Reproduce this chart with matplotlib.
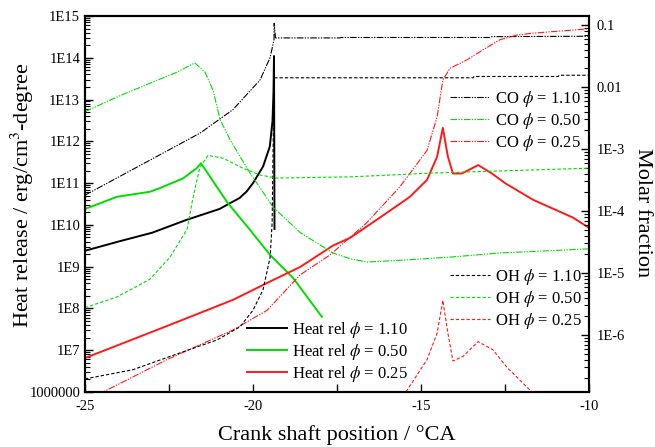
import numpy as np
import matplotlib
matplotlib.use("Agg")
import matplotlib.pyplot as plt
from matplotlib.lines import Line2D
from matplotlib.ticker import FixedLocator, FixedFormatter, LogLocator, MultipleLocator, NullFormatter

plt.rcParams['font.family'] = ['Liberation Serif', 'DejaVu Serif']
plt.rcParams['mathtext.fontset'] = 'stix'
plt.rcParams['axes.unicode_minus'] = False

# ---- heat release (left axis), erg/cm3-degree ----
hr110_x = [-25.0, -24.0, -23.0, -22.0, -21.0, -20.4, -20.19, -20.0, -19.7, -19.5, -19.42, -19.39, -19.375, -19.36]
hr110_y = [2.4e9, 4.0e9, 6.5e9, 1.3e10, 2.4e10, 4.4e10, 6.3e10, 1.0e11, 2.5e11, 7.5e11, 3.0e12, 1.5e13, 1.1e14, 8.0e9]

hr050_x = [-25.0, -24.05, -23.07, -22.77, -22.08, -21.67, -21.55, -20.77, -20.09, -19.49, -18.81, -17.95]
hr050_y = [2.4e10, 4.7e10, 6.2e10, 7.6e10, 1.3e11, 2.3e11, 3.0e11, 3.5e10, 7.6e9, 1.9e9, 5.4e8, 6.3e7]

hr025_x = [-25.0, -22.56, -20.6, -19.4, -18.6, -17.62, -17.11, -16.22, -15.33, -14.82, -14.52, -14.35,
           -14.2, -14.05, -13.78, -13.3, -12.89, -12.5, -11.67, -10.48, -10.0]
hr025_y = [6.5e6, 3.8e7, 1.6e8, 4.8e8, 9.8e8, 3.2e9, 4.9e9, 1.5e10, 4.7e10, 1.2e11, 4.3e11, 2.1e12,
           4.3e11, 1.7e11, 1.7e11, 2.7e11, 1.7e11, 1.0e11, 4.0e10, 1.5e10, 8.5e9]

# ---- CO molar fraction (right axis) ----
co110_x = [-25.0, -23.07, -21.58, -20.6, -19.79, -19.49, -19.375, -19.37, -19.33, -17.41, -17.38, -12.95, -12.9, -10.0]
co110_y = [1.8e-4, 6.6e-4, 1.8e-3, 4.3e-3, 1.3e-2, 3.0e-2, 5.8e-2, 0.107, 0.062, 0.062, 0.063, 0.063, 0.065, 0.066]

co050_x = [-25.0, -24.05, -23.07, -22.26, -21.73, -21.43, -21.19, -20.98, -20.68, -20.09, -19.4, -18.6,
           -17.62, -17.11, -16.61, -15.63, -14.14, -12.65, -10.0]
co050_y = [4.0e-3, 6.9e-3, 1.15e-2, 1.74e-2, 2.45e-2, 1.74e-2, 8.9e-3, 3.0e-3, 1.4e-3, 4.1e-4, 1.15e-4, 4.5e-5,
           2.1e-5, 1.7e-5, 1.5e-5, 1.6e-5, 1.8e-5, 2.1e-5, 2.45e-5]

co025_x = [-25.0, -24.46, -22.56, -20.6, -19.58, -18.6, -17.71, -16.61, -15.63, -14.82, -14.52, -14.35,
           -14.14, -13.63, -13.15, -12.65, -12.14, -11.67, -10.0]
co025_y = [8.5e-8, 1.2e-7, 4.0e-7, 1.2e-6, 2.5e-6, 9.3e-6, 1.95e-5, 6.5e-5, 2.45e-4, 9.5e-4, 3.3e-3, 1.3e-2,
           2.0e-2, 2.75e-2, 4.0e-2, 5.8e-2, 6.9e-2, 7.4e-2, 8.7e-2]

# ---- OH molar fraction (right axis) ----
oh110_x = [-25.0, -23.57, -22.47, -21.07, -20.39, -20.0, -19.7, -19.49, -19.43, -19.4, -19.375,
           -13.45, -13.42, -10.92, -10.89, -10.0]
oh110_y = [1.95e-7, 2.75e-7, 4.5e-7, 8.3e-7, 1.35e-6, 2.5e-6, 5.4e-6, 1.8e-5, 6.5e-5, 1.26e-3, 0.0141,
           0.0141, 0.0148, 0.0148, 0.0155, 0.0155]

oh050_x = [-25.0, -24.05, -23.07, -22.47, -21.96, -21.79, -21.58, -21.34, -20.89, -20.3, -19.79, -19.29,
           -17.11, -14.64, -10.0]
oh050_y = [2.75e-6, 4.1e-6, 7.9e-6, 1.8e-5, 5.1e-5, 1.6e-4, 5.1e-4, 7.9e-4, 7.1e-4, 4.9e-4, 3.8e-4, 3.4e-4,
           3.55e-4, 4.1e-4, 4.9e-4]

oh025_x = [-15.8, -15.45, -14.82, -14.52, -14.35, -14.2, -14.05, -13.75, -13.3, -12.86, -12.44, -11.7, -11.4]
oh025_y = [5e-8, 1.2e-7, 4.0e-7, 1.07e-6, 3.6e-6, 1.07e-6, 3.8e-7, 4.5e-7, 7.8e-7, 5.75e-7, 3.0e-7, 1.2e-7, 6e-8]

phi_labels = ['1.10', '0.50', '0.25']
left_ticks = [1e6, 1e7, 1e8, 1e9, 1e10, 1e11, 1e12, 1e13, 1e14, 1e15]
left_ticklabels = ['1000000', '1E7', '1E8', '1E9', '1E10', '1E11', '1E12', '1E13', '1E14', '1E15']
right_ticks = [1e-6, 1e-5, 1e-4, 1e-3, 1e-2, 1e-1]
right_ticklabels = ['1E-6', '1E-5', '1E-4', '1E-3', '0.01', '0.1']

BLACK = 'black'
GREEN = '#00dd00'
RED = '#ff1a1a'
colors = [BLACK, GREEN, RED]
co_dash = (0, (6, 1.2, 1.2, 1.2, 1.2, 1.2))
oh_dash = (0, (3, 1.8))

fig = plt.figure(figsize=(6.55, 4.47), dpi=100)
ax = fig.add_axes([85 / 655, 1 - 392 / 447, 504 / 655, 376 / 447])
ax2 = ax.twinx()

# heat release
for x, y, c in zip([hr110_x, hr050_x, hr025_x], [hr110_y, hr050_y, hr025_y], colors):
    ax.plot(x, y, color=c, lw=1.4)

# CO and OH
for x, y, c in zip([co110_x, co050_x, co025_x], [co110_y, co050_y, co025_y], colors):
    ax2.plot(x, y, color=c, lw=0.8, ls=co_dash)
for x, y, c in zip([oh110_x, oh050_x, oh025_x], [oh110_y, oh050_y, oh025_y], colors):
    ax2.plot(x, y, color=c, lw=0.8, ls=oh_dash)

ax.set_xlim(-25, -10)
ax.set_yscale('log')
ax.set_ylim(1e6, 1e15)
ax2.set_yscale('log')
ax2.set_ylim(1.2e-7, 0.14)

ax.xaxis.set_major_locator(FixedLocator([-25, -20, -15, -10]))
ax.xaxis.set_minor_locator(MultipleLocator(2.5))
ax.yaxis.set_major_locator(FixedLocator(left_ticks))
ax.yaxis.set_major_formatter(FixedFormatter(left_ticklabels))
ax.yaxis.set_minor_locator(LogLocator(base=10, subs=np.arange(2, 10), numticks=20))
ax.yaxis.set_minor_formatter(NullFormatter())
ax2.yaxis.set_major_locator(FixedLocator(right_ticks))
ax2.yaxis.set_major_formatter(FixedFormatter(right_ticklabels))
ax2.yaxis.set_minor_locator(LogLocator(base=10, subs=np.arange(2, 10), numticks=20))
ax2.yaxis.set_minor_formatter(NullFormatter())

ax.tick_params(axis='both', which='both', direction='in', labelsize=10.5, top=False, right=False)
ax.tick_params(which='major', length=6, width=1.0)
ax.tick_params(which='minor', length=3.5, width=0.8)
ax.tick_params(axis='x', which='minor', length=6, width=1.0)
ax.tick_params(axis='x', pad=6)
ax2.tick_params(axis='y', which='both', direction='in', labelsize=10.5, pad=5.5)
ax2.tick_params(which='major', length=6, width=1.0)
ax2.tick_params(which='minor', length=3.5, width=0.8)

for a in (ax, ax2):
    for s in a.spines.values():
        s.set_linewidth(1.5)

ax.set_xlabel('Crank shaft position / \u00b0CA', fontsize=16)
ax.set_ylabel('Heat release / erg/cm$^3$-degree', fontsize=16)
ax.xaxis.set_label_coords(0.5, -0.088)
ax.yaxis.set_label_coords(-0.097, 0.524)
ax2.set_ylabel('Molar fraction', fontsize=16, rotation=270, va='bottom')
ax2.yaxis.set_label_coords(1.088, 0.476)

# legends
def make_legend(labels, ls, lw, x_px, y_px):
    handles = [Line2D([], [], color=c, lw=lw, ls=ls) for c in colors]
    leg = fig.legend(handles, labels, loc='upper left',
                     bbox_to_anchor=(x_px / 655, 1 - y_px / 447), bbox_transform=fig.transFigure,
                     frameon=False, fontsize=12, handlelength=2.4, handletextpad=0.3,
                     labelspacing=0.12, borderpad=0, borderaxespad=0)
    return leg

make_legend(['CO $\\phi$ = ' + p for p in phi_labels], co_dash, 0.8, 450, 89)
make_legend(['OH $\\phi$ = ' + p for p in phi_labels], oh_dash, 0.8, 450, 267)
make_legend(['Heat rel $\\phi$ = ' + p for p in phi_labels], '-', 1.4, 247, 320)

fig.savefig('out.png', dpi=100)
